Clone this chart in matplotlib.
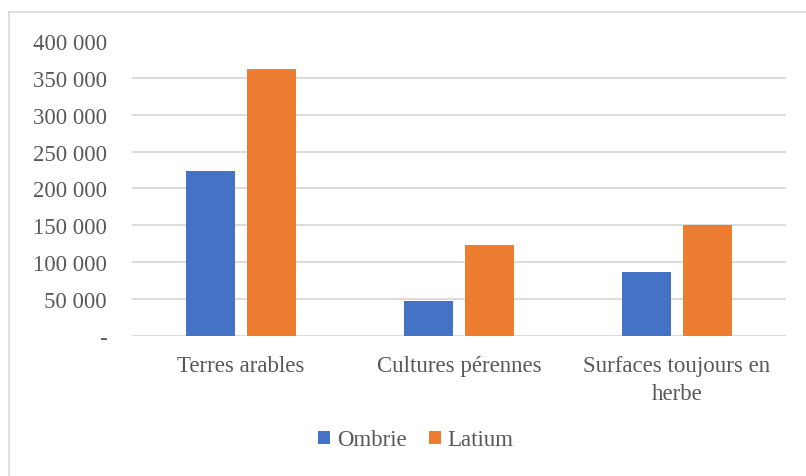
import numpy as np
import matplotlib
matplotlib.use('Agg')
import matplotlib.pyplot as plt
from matplotlib.lines import Line2D

## Data
categories = ['Terres arables', 'Cultures pérennes', 'Surfaces toujours en\nherbe']
ombrie = [224000, 47500, 87000]
latium = [362500, 123000, 150300]
series_names = ['Ombrie', 'Latium']
yticks = [0, 50000, 100000, 150000, 200000, 250000, 300000, 350000, 400000]

plt.rcParams['font.family'] = ['Liberation Serif', 'DejaVu Serif']
text_color = '#595959'
grid_color = '#d9d9d9'

fig = plt.figure(figsize=(8.06, 4.77), dpi=100)
ax = fig.add_axes([132/806, 1-336.5/477, 654/806, 294/477])

x = np.arange(len(categories))
w = 0.225
off = 0.142
ax.bar(x - off, ombrie, w, color='#4472c4', label=series_names[0], zorder=3)
ax.bar(x + off, latium, w, color='#ed7d31', label=series_names[1], zorder=3)

ax.set_xlim(-0.5, 2.5)
ax.set_ylim(0, 400000)
ax.set_yticks(yticks)
ax.set_yticklabels(['-' if v == 0 else f'{v:,}'.replace(',', ' ') for v in yticks])
ax.set_xticks(x)
ax.set_xticklabels(categories, linespacing=1.45)
ax.yaxis.grid(True, color=grid_color, linewidth=1.3, zorder=0)
ax.tick_params(axis='both', length=0, labelsize=16.5, colors=text_color)
ax.tick_params(axis='y', pad=18)
ax.tick_params(axis='x', pad=14)
for s in ax.spines.values():
    s.set_visible(False)

leg = fig.legend(loc='center', bbox_to_anchor=(416/806, 1-441/477), ncol=2, frameon=False,
                 fontsize=16.5, handlelength=0.5, handleheight=0.5, handletextpad=0.3,
                 columnspacing=1.0)
for t in leg.get_texts():
    t.set_color(text_color)

# chart border (cropped at right and bottom)
fig.add_artist(Line2D([9/806, 1], [1-13/477, 1-13/477], color=grid_color, lw=1.2))
fig.add_artist(Line2D([9/806, 9/806], [0, 1-13/477], color=grid_color, lw=1.2))

fig.savefig('out.png', dpi=100)
